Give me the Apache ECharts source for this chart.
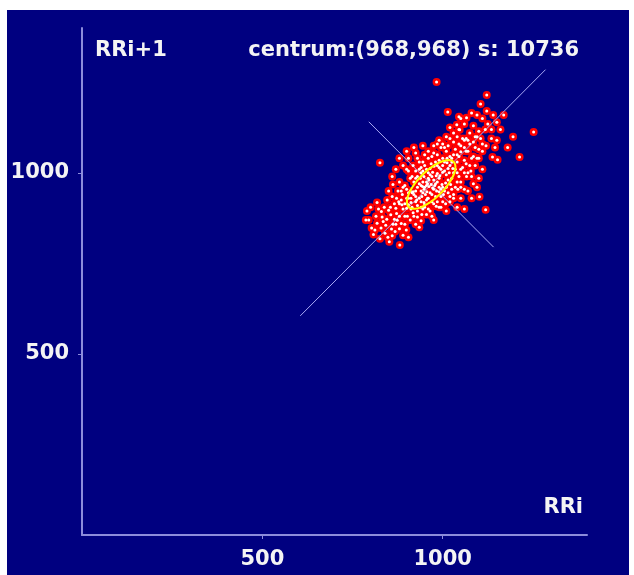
<!DOCTYPE html>
<html><head><meta charset="utf-8">
<script src="https://cdn.jsdelivr.net/npm/echarts@6/dist/echarts.min.js"></script>
<style>html,body{margin:0;padding:0;background:#fff}#c{width:634px;height:575px}</style>
</head><body><div id="c"></div><script>
const xTitle = 'RRi';
const yTitle = 'RRi+1';
const centre = [968, 968];
const sValue = 10736;
const axisRange = [0, 1400];
const tickStep = 500;
const diagonalLine = [[605, 605], [1285, 1285]];
const perpendicularLine = [[795, 1141], [1141, 795]];
const ellipseAxes = [88, 36];
const points = [
[812,842],[826,818],[795,870],[840,833],[818,861],[852,810],[803,848],[835,866],[860,826],[829,848],
[845,872],[868,838],[830,893],[880,846],[856,884],[874,869],[890,828],[838,905],[862,858],[899,842],[850,897],[885,860],[872,888],[818,918],[905,822],
[870,902],[895,880],[910,870],[880,915],[860,935],[925,858],[900,902],[885,925],[918,890],[935,850],[872,930],[905,912],[930,878],[890,900],[850,950],[940,868],[912,900],[895,915],[920,880],[878,920],
[905,930],[930,910],[915,945],[945,900],[890,960],[955,885],[925,935],[940,920],[900,955],[960,900],[918,948],[948,918],[880,975],[970,880],[935,930],[910,950],[950,912],[928,925],[965,895],[895,965],[942,935],[920,940],[975,870],[885,950],
[940,950],[960,930],[925,985],[975,915],[950,960],[935,970],[985,920],[915,990],[965,945],[945,975],[990,905],[905,1005],[955,965],[970,940],[930,990],[980,935],[948,955],[962,962],[920,975],[1000,920],[940,965],[958,970],[975,955],[900,1010],[1010,895],[952,940],
[960,985],[980,970],[945,1005],[995,955],[970,990],[985,975],[955,1010],[1005,950],[935,1030],[1020,935],[965,995],[990,985],[975,980],[950,1020],[1010,960],[930,1040],[1030,930],[968,968],[982,992],[960,1000],[998,968],[940,1015],[1015,945],[972,1002],[990,960],
[995,1010],[1010,995],[980,1030],[1025,985],[1000,1020],[970,1045],[1040,975],[1015,1012],[990,1035],[1030,1000],[960,1060],[1050,960],[1005,1030],[1020,1020],[985,1050],[1045,990],[1000,1002],[1012,1040],[975,1055],[1035,1010],[1060,955],
[1020,1045],[1040,1030],[1010,1060],[1055,1015],[1030,1050],[1000,1080],[1070,1000],[1045,1045],[1015,1075],[1060,1035],[990,1090],[1080,990],[1035,1065],[1050,1058],[1025,1040],[1065,1025],[1005,1070],
[1050,1075],[1070,1060],[1040,1100],[1085,1045],[1060,1090],[1030,1110],[1095,1040],[1075,1080],[1045,1120],[1100,1065],[1065,1095],[1020,1125],
[1075,1110],[1090,1100],[1060,1135],[1110,1080],[1085,1130],[1050,1150],[1120,1075],[1100,1115],[1066,1152],[1039,1133],[1047,1119],[1014,1168],
[983,1251],[1122,1215],[1122,1171],[1169,1160],[1252,1113],[1213,1044],[1152,1036],[1138,1044],[1110,1150],[1135,1120],[1150,1090],[1095,1160],[1180,1070],[1160,1120],[1140,1160],[1195,1100],[1125,1135],
[955,975],[972,958],[948,990],[990,948],[962,980],[978,965],[940,1000],[1002,940],[985,998],[965,1012],[1008,972],[930,960],[958,930],[945,945],[992,992],[1018,1000],[1000,1040],[938,985],[925,950],[912,930],[950,905],[995,935],[1022,968],[968,1025],[983,950],[944,962],[976,1018],[1028,1012],[956,948],[1012,1028],
[826,1028],[787,870],[881,801],[1102,934],[1119,898],
[800,905],[815,880],[790,895],[808,830],[822,900],[842,855],[858,845],[866,872],[848,822],[832,878],[880,880],[870,858],[895,858],[855,905],[846,925],[866,915],[902,880],[915,905],[888,940],[876,950],[862,968],[905,945],[930,895],[942,885],[912,918],[925,920],[940,905],[955,925],[900,930],[887,912],
[970,920],[982,908],[1000,960],[1015,980],[1025,955],[1035,960],[1040,1000],[1050,1010],[1060,1000],[1075,1020],[1065,1060],[1080,1040],[1090,1070],[1055,1095],[1045,1080],[1030,1085],[1020,1095],[1010,1100],[995,1070],[985,1080],[975,1075],[960,1040],[950,1050],[945,1030],[935,1010],[925,1005],[918,1020],[910,985],[990,1015],[1005,1005],[985,1020],[1025,1030],[1040,1050],[1060,1070],[1070,1090],[1085,1085],[1095,1100],[1105,1095],
[1118,1120],[1110,1060],[1100,1040],[1090,1020],[1078,1005],[1066,990],[1050,975],[1042,955],[1030,940],[1020,920],[1008,915],[995,905],
[1135,1095],[1145,1070],[1080,1165],[1045,1155],[1150,1140],[1105,1190],
[1060,900],[1080,930],[1095,960],[1040,905],[1050,930],[1070,950],[880,1040],[900,1060],[920,1070],[870,1010],[890,1020],[860,990],[1110,1010],[1100,985],[1085,970],[905,1040],[925,1055],[945,1075]
];

const axisColor = '#8c8cdc';
const font = 'DejaVu Sans';
const chart = echarts.init(document.getElementById('c'));
const labelCommon = {showMinLabel: false, showMaxLabel: false, color: '#f4f4f4', fontFamily: font, fontWeight: 'bold', fontSize: 21, formatter: function (v) { return String(v); }};
const axisCommon = {
  type: 'value', min: axisRange[0], max: axisRange[1], interval: tickStep,
  splitLine: {show: false},
  axisLine: {show: true, lineStyle: {color: axisColor, width: 2}},
  axisTick: {show: true, length: 4, lineStyle: {color: axisColor, width: 1}}
};
chart.setOption({
  backgroundColor: '#ffffff',
  animation: false,
  grid: {left: 82, top: 28, width: 505, height: 507, containLabel: false},
  xAxis: Object.assign({}, axisCommon, {axisLabel: Object.assign({}, labelCommon, {margin: 14})}),
  yAxis: Object.assign({}, axisCommon, {axisLabel: Object.assign({}, labelCommon, {margin: 13})}),
  graphic: [
    {type: 'rect', z: -100, silent: true, shape: {x: 7, y: 10, width: 622, height: 565}, style: {fill: '#000080'}},
    {type: 'text', z: 100, left: 95, top: 40, style: {text: yTitle, fill: '#f4f4f4', font: 'bold 21px "DejaVu Sans"'}},
    {type: 'text', z: 100, right: 55, top: 40, style: {text: 'centrum:(' + centre[0] + ',' + centre[1] + ') s: ' + sValue, fill: '#f4f4f4', font: 'bold 21px "DejaVu Sans"'}},
    {type: 'text', z: 100, right: 51, top: 497, style: {text: xTitle, fill: '#f4f4f4', font: 'bold 21px "DejaVu Sans"'}}
  ],
  series: [
    {type: 'scatter', data: points, symbolSize: 8, itemStyle: {color: '#ff0000', opacity: 1}, z: 2, silent: true},
    {type: 'line', data: diagonalLine, symbol: 'none', lineStyle: {color: '#a8a8f4', width: 1}, z: 3, silent: true},
    {type: 'line', data: perpendicularLine, symbol: 'none', lineStyle: {color: '#a8a8f4', width: 1}, z: 3, silent: true},
    {type: 'scatter', data: points, symbolSize: 3, itemStyle: {color: '#ffffff', opacity: 1}, z: 4, silent: true},
    {type: 'custom', z: 5, silent: true, data: [[centre[0], centre[1], ellipseAxes[0], ellipseAxes[1]]],
     renderItem: function (params, api) {
       const cx = api.value(0), cy = api.value(1), a = api.value(2), b = api.value(3);
       const r = Math.SQRT1_2, pts = [];
       for (let i = 0; i < 72; i++) {
         const t = i / 72 * Math.PI * 2;
         const u = a * Math.cos(t), v = b * Math.sin(t);
         pts.push(api.coord([cx + (u - v) * r, cy + (u + v) * r]));
       }
       return {type: 'polygon', shape: {points: pts}, style: {fill: 'none', stroke: '#ffff00', lineWidth: 2}};
     }}
  ]
});
</script></body></html>
